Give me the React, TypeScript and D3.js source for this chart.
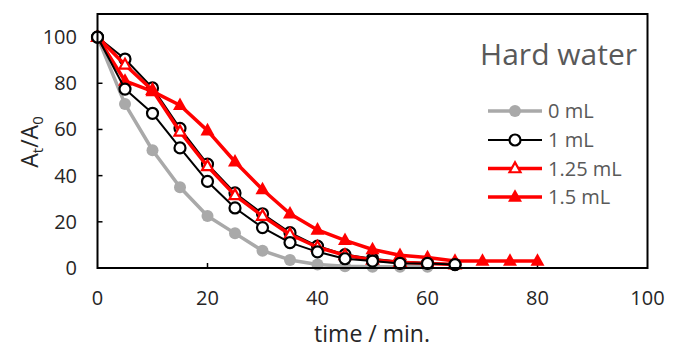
import React from "react";
import * as d3 from "d3";

const times = [0, 5, 10, 15, 20, 25, 30, 35, 40, 45, 50, 55, 60, 65, 70, 75, 80];
const s0mL = [100, 71, 51, 35, 22.5, 15, 7.5, 3.5, 1.5, 0.8, 0.5, 0.5, 0.5];
const s1mL = [100, 77.5, 67, 52, 37.5, 26, 17.5, 11, 7, 4, 3, 2, 2, 1.5];
const s1mLRep = [100, 90.5, 78, 60.5, 45, 32.5, 23.5, 15.3, 9.5, 5.8, 4, 2.7, 2.2, 1.6];
const s125mL = [100, 88, 77, 59, 44, 31.5, 22.5, 14.5, 9, 5.5, 3.5, 2.5, 2, 1.5];
const s15mL = [100, 81, 76.5, 70.5, 59.5, 46, 34, 23.5, 16.5, 12, 8, 5.5, 4.5, 3, 3, 3, 3];
const xTicks = [0, 20, 40, 60, 80, 100];
const yTicks = [0, 20, 40, 60, 80, 100];
const legendLabels = ["0 mL", "1 mL", "1.25 mL", "1.5 mL"];

const W = 674, H = 352;
const L = 97.5, R = 647.5, T = 14, B = 268;
const FONT = "'Open Sans', sans-serif";
const GRAY = "#a9a9a9";
const RED = "#ff0000";

const x = d3.scaleLinear().domain([0, 100]).range([L, R]);
const y = d3.scaleLinear().domain([0, 110]).range([B, T]);

type Kind = "dot" | "circle" | "openTri" | "tri";
interface Series { vals: number[]; color: string; width: number; kind: Kind; }

const seriesList: Series[] = [
  { vals: s0mL, color: GRAY, width: 3.5, kind: "dot" },
  { vals: s1mLRep, color: "#000", width: 2, kind: "circle" },
  { vals: s125mL, color: RED, width: 3.5, kind: "openTri" },
  { vals: s15mL, color: RED, width: 3.5, kind: "tri" },
  { vals: s1mL, color: "#000", width: 2, kind: "circle" },
];
const legendSeries = [seriesList[0], seriesList[4], seriesList[2], seriesList[3]];

const triPath = (cx: number, cy: number, s: number) => {
  const h = s * 0.9;
  return `M${cx},${cy - h * 0.62}L${cx + s / 2},${cy + h * 0.38}L${cx - s / 2},${cy + h * 0.38}Z`;
};

function Marker({ kind, cx, cy, color }: { kind: Kind; cx: number; cy: number; color: string }) {
  if (kind === "dot") return <circle cx={cx} cy={cy} r={6} fill={color} />;
  if (kind === "circle") return <circle cx={cx} cy={cy} r={5.5} fill="#fff" stroke={color} strokeWidth={2.2} />;
  if (kind === "openTri") return <path d={triPath(cx, cy, 11)} fill="#fff" stroke={color} strokeWidth={2.2} strokeLinejoin="miter" />;
  return <path d={triPath(cx, cy, 14)} fill={color} />;
}

export default function App() {
  const line = d3.line<number>().x((_, i) => x(times[i])).y((d) => y(d));
  const legendY = [111, 140, 168.5, 197];
  return (
    <svg width={W} height={H} style={{ position: "absolute", left: 0, top: 0, background: "#fff" }}>
      <rect x={0} y={0} width={W} height={H} fill="#fff" />
      {/* ticks inside */}
      {yTicks.filter((t) => t > 0).map((t) => (
        <line key={"yt" + t} x1={L} x2={L + 5} y1={y(t)} y2={y(t)} stroke="#000" strokeWidth={1.5} />
      ))}
      {xTicks.filter((t) => t > 0 && t < 100).map((t) => (
        <line key={"xt" + t} x1={x(t)} x2={x(t)} y1={B} y2={B - 5} stroke="#000" strokeWidth={1.5} />
      ))}
      {/* series */}
      {seriesList.map((s, si) => (
        <g key={"s" + si}>
          <path d={line(s.vals) || ""} fill="none" stroke={s.color} strokeWidth={s.width} strokeLinejoin="round" />
          {s.vals.map((v, i) => (
            <Marker key={i} kind={s.kind} cx={x(times[i])} cy={y(v)} color={s.color} />
          ))}
        </g>
      ))}
      {/* frame */}
      <rect x={L} y={T} width={R - L} height={B - T} fill="none" stroke="#000" strokeWidth={2} />
      {/* tick labels */}
      {yTicks.map((t) => (
        <text key={"yl" + t} x={77} y={y(t)} dy="0.35em" textAnchor="end" fontFamily={FONT} fontSize={20} fill="#262626">{t}</text>
      ))}
      {xTicks.map((t) => (
        <text key={"xl" + t} x={x(t)} y={305} textAnchor="middle" fontFamily={FONT} fontSize={20} fill="#262626">{t}</text>
      ))}
      {/* axis titles */}
      <text x={372} y={342} textAnchor="middle" fontFamily={FONT} fontSize={23} fill="#262626">time / min.</text>
      <text transform={`translate(38,${142}) rotate(-90)`} textAnchor="middle" fontFamily={FONT} fontSize={23} fill="#262626">
        A<tspan fontSize={15} dy={5}>t</tspan><tspan dy={-5}>/A</tspan><tspan fontSize={15} dy={5}>0</tspan>
      </text>
      {/* title */}
      <text x={637} y={65} textAnchor="end" fontFamily={FONT} fontSize={30} fill="#595959">Hard water</text>
      {/* legend */}
      {legendSeries.map((s, i) => (
        <g key={"lg" + i}>
          <line x1={488} x2={542} y1={legendY[i]} y2={legendY[i]} stroke={s.color} strokeWidth={s.width} />
          <Marker kind={s.kind} cx={515} cy={legendY[i]} color={s.color} />
          <text x={548} y={legendY[i]} dy="0.36em" fontFamily={FONT} fontSize={20} fill="#595959">{legendLabels[i]}</text>
        </g>
      ))}
    </svg>
  );
}
